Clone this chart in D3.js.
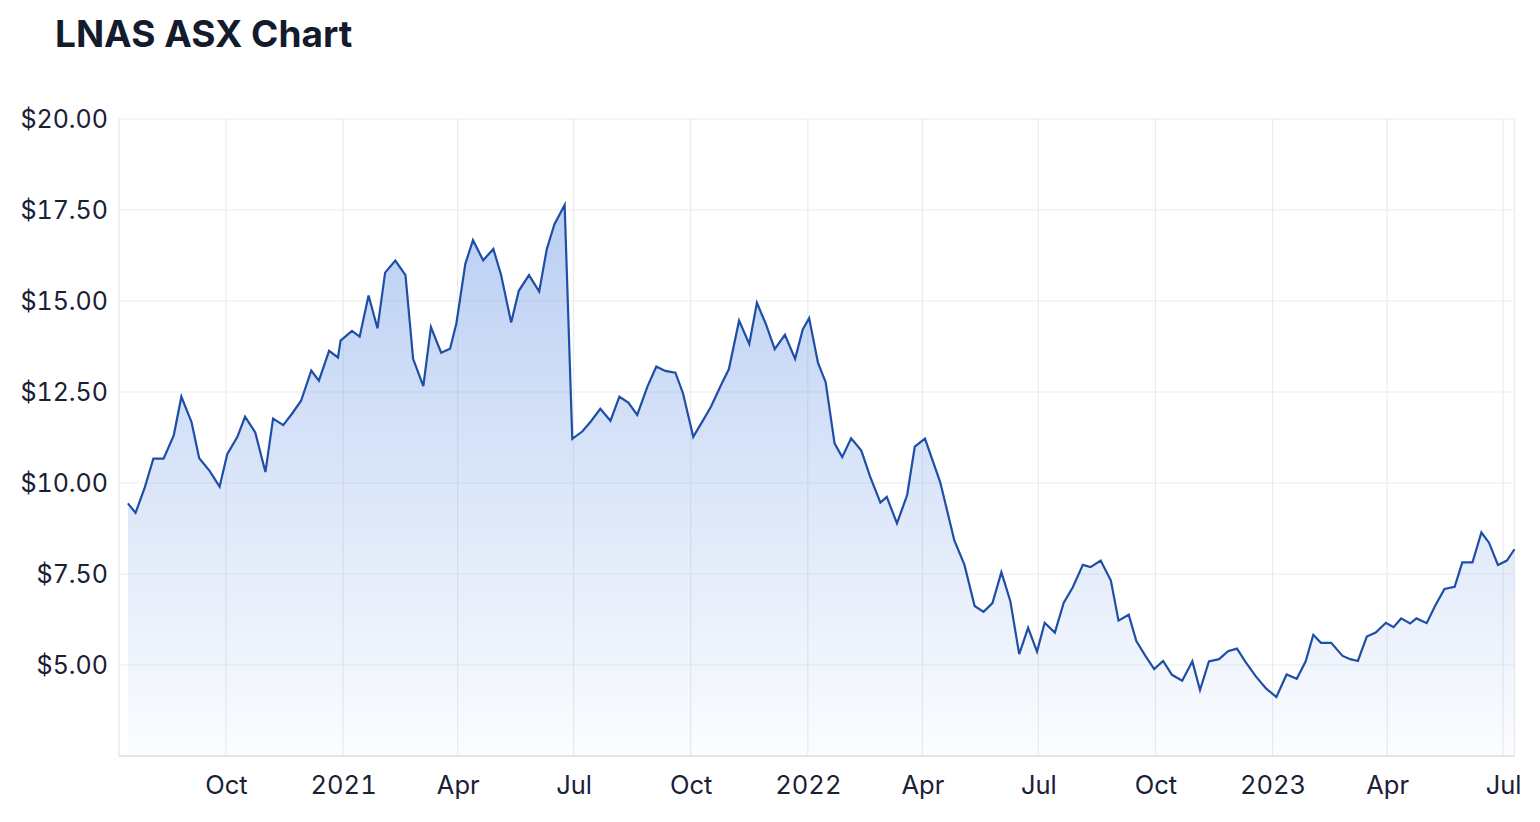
<!DOCTYPE html>
<html>
<head>
<meta charset="utf-8">
<script src="https://cdn.jsdelivr.net/npm/d3@7"></script>
<style>
  html, body { margin: 0; padding: 0; background: #fff; }
  svg { display: block; font-family: Inter, "Liberation Sans", sans-serif; }
  .tick text { font-variant-numeric: tabular-nums; font-feature-settings: "tnum" 1; }
</style>
</head>
<body>
<svg id="chart" width="1540" height="822"></svg>
<script>
const title = "LNAS ASX Chart";

const dates = [
  "2020-07-16","2020-07-22","2020-07-29","2020-08-05","2020-08-13","2020-08-21","2020-08-27","2020-09-04","2020-09-10","2020-09-18",
  "2020-09-26","2020-10-02","2020-10-10","2020-10-16","2020-10-24","2020-11-01","2020-11-07","2020-11-15","2020-11-22","2020-11-29",
  "2020-12-07","2020-12-13","2020-12-21","2020-12-28","2020-12-30","2021-01-08","2021-01-14","2021-01-21","2021-01-28","2021-02-03",
  "2021-02-11","2021-02-19","2021-02-25","2021-03-05","2021-03-11","2021-03-19","2021-03-26","2021-03-31","2021-04-07","2021-04-13",
  "2021-04-21","2021-04-29","2021-05-05","2021-05-13","2021-05-19","2021-05-27","2021-06-04","2021-06-10","2021-06-16","2021-06-24",
  "2021-06-30","2021-07-08","2021-07-15","2021-07-22","2021-07-30","2021-08-06","2021-08-13","2021-08-20","2021-08-28","2021-09-04",
  "2021-09-11","2021-09-19","2021-09-25","2021-10-03","2021-10-10","2021-10-17","2021-10-24","2021-10-31","2021-11-08","2021-11-16",
  "2021-11-22","2021-11-29","2021-12-06","2021-12-14","2021-12-22","2021-12-28","2022-01-02","2022-01-09","2022-01-15","2022-01-22",
  "2022-01-28","2022-02-04","2022-02-12","2022-02-19","2022-02-27","2022-03-04","2022-03-12","2022-03-20","2022-03-26","2022-04-03",
  "2022-04-15","2022-04-26","2022-05-04","2022-05-12","2022-05-19","2022-05-26","2022-06-02","2022-06-09","2022-06-16","2022-06-23",
  "2022-06-30","2022-07-06","2022-07-14","2022-07-21","2022-07-28","2022-08-05","2022-08-11","2022-08-19","2022-08-27","2022-09-02",
  "2022-09-10","2022-09-16","2022-09-23","2022-09-30","2022-10-07","2022-10-14","2022-10-22","2022-10-30","2022-11-05","2022-11-12",
  "2022-11-20","2022-11-27","2022-12-04","2022-12-11","2022-12-19","2022-12-27","2023-01-04","2023-01-12","2023-01-20","2023-01-27",
  "2023-02-02","2023-02-08","2023-02-16","2023-02-25","2023-03-03","2023-03-09","2023-03-16","2023-03-23","2023-03-31","2023-04-06",
  "2023-04-12","2023-04-19","2023-04-24","2023-05-02","2023-05-09","2023-05-16","2023-05-24","2023-05-30","2023-06-07","2023-06-14",
  "2023-06-20","2023-06-27","2023-07-04","2023-07-10"
];

const prices = [
  9.44, 9.18, 9.85, 10.67, 10.67, 11.31, 12.37, 11.67, 10.68, 10.34,
  9.90, 10.79, 11.27, 11.82, 11.39, 10.30, 11.77, 11.59, 11.91, 12.26,
  13.09, 12.81, 13.63, 13.45, 13.91, 14.18, 14.02, 15.15, 14.25, 15.78,
  16.11, 15.71, 13.41, 12.66, 14.28, 13.58, 13.69, 14.39, 16.02, 16.67,
  16.12, 16.43, 15.73, 14.41, 15.28, 15.71, 15.26, 16.43, 17.11, 17.64,
  11.21, 11.42, 11.71, 12.04, 11.71, 12.37, 12.21, 11.87, 12.65, 13.20,
  13.08, 13.03, 12.46, 11.27, 11.68, 12.10, 12.63, 13.13, 14.46, 13.82,
  14.95, 14.37, 13.68, 14.07, 13.41, 14.22, 14.53, 13.30, 12.77, 11.09,
  10.71, 11.23, 10.89, 10.17, 9.46, 9.62, 8.89, 9.67, 11.00, 11.22,
  10.02, 8.43, 7.75, 6.62, 6.46, 6.70, 7.55, 6.76, 5.30, 6.02,
  5.37, 6.16, 5.89, 6.71, 7.13, 7.75, 7.69, 7.87, 7.32, 6.22,
  6.38, 5.66, 5.26, 4.89, 5.11, 4.73, 4.57, 5.10, 4.31, 5.10,
  5.16, 5.38, 5.45, 5.07, 4.68, 4.35, 4.12, 4.74, 4.62, 5.10,
  5.83, 5.61, 5.61, 5.25, 5.16, 5.11, 5.78, 5.89, 6.16, 6.04,
  6.28, 6.14, 6.28, 6.15, 6.65, 7.09, 7.15, 7.82, 7.82, 8.64,
  8.36, 7.75, 7.87, 8.18
];

const yTicks = [5, 7.5, 10, 12.5, 15, 17.5, 20];
const xTickDates = ["2020-10-01","2021-01-01","2021-04-01","2021-07-01","2021-10-01","2022-01-01",
                    "2022-04-01","2022-07-01","2022-10-01","2023-01-01","2023-04-01","2023-07-01"];
const xTickLabels = ["Oct","2021","Apr","Jul","Oct","2022","Apr","Jul","Oct","2023","Apr","Jul"];
const xDomain = ["2020-07-09","2023-07-10"];
const yDomain = [2.5, 20];

(function () {
const parse = d3.utcParse("%Y-%m-%d");
const data = dates.map((d, i) => ({ date: parse(d), value: prices[i] }));

const pl = 119, pr = 1514.5, pt = 119, pb = 756;
const svg = d3.select("#chart");

const x = d3.scaleUtc().domain(xDomain.map(parse)).range([pl, pr]);
const y = d3.scaleLinear().domain(yDomain).range([pb, pt]);

svg.append("text")
  .attr("x", 55).attr("y", 47)
  .attr("font-size", 37).attr("font-weight", 700)
  .attr("fill", "#141b2d")
  .text(title);

const defs = svg.append("defs");
const grad = defs.append("linearGradient")
  .attr("id", "fillGrad").attr("gradientUnits", "userSpaceOnUse")
  .attr("x1", 0).attr("x2", 0).attr("y1", pt).attr("y2", pb);
grad.append("stop").attr("offset", "0%").attr("stop-color", "#4a80e0").attr("stop-opacity", 0.44);
grad.append("stop").attr("offset", "100%").attr("stop-color", "#4a80e0").attr("stop-opacity", 0.02);

svg.append("g")
  .selectAll("line").data(yTicks).join("line")
  .attr("x1", pl).attr("x2", pr)
  .attr("y1", d => y(d)).attr("y2", d => y(d))
  .attr("stroke", "#ebebeb").attr("stroke-width", 1.2);

svg.append("g")
  .selectAll("line").data(xTickDates).join("line")
  .attr("x1", d => x(parse(d))).attr("x2", d => x(parse(d)))
  .attr("y1", pt).attr("y2", pb)
  .attr("stroke", "#ececec").attr("stroke-width", 1.2);

svg.append("line").attr("x1", pl).attr("x2", pl).attr("y1", pt).attr("y2", pb)
  .attr("stroke", "#e6e6e6").attr("stroke-width", 1.2);
svg.append("line").attr("x1", pr).attr("x2", pr).attr("y1", pt).attr("y2", pb)
  .attr("stroke", "#ececec").attr("stroke-width", 1.2);

const area = d3.area().x(d => x(d.date)).y0(pb).y1(d => y(d.value));
svg.append("path").datum(data).attr("d", area).attr("fill", "url(#fillGrad)");

const line = d3.line().x(d => x(d.date)).y(d => y(d.value));
svg.append("path").datum(data)
  .attr("d", line).attr("fill", "none")
  .attr("stroke", "#1f4ea6").attr("stroke-width", 2.2);

svg.append("line").attr("x1", pl).attr("x2", pr).attr("y1", pb).attr("y2", pb)
  .attr("stroke", "#dedede").attr("stroke-width", 1.6);

const yAxis = d3.axisLeft(y).tickValues(yTicks)
  .tickFormat(d => "$" + d3.format(".2f")(d)).tickSize(0).tickPadding(11);
const gy = svg.append("g").attr("transform", `translate(${pl},0)`).call(yAxis);
gy.select(".domain").remove();
gy.selectAll("text").attr("font-size", 25).attr("fill", "#1a2035")
  .attr("font-family", "Inter, 'Liberation Sans', sans-serif");

const xAxis = d3.axisBottom(x).tickValues(xTickDates.map(parse))
  .tickFormat((d, i) => xTickLabels[i]).tickSize(0).tickPadding(20);
const gx = svg.append("g").attr("transform", `translate(0,${pb})`).call(xAxis);
gx.select(".domain").remove();
gx.selectAll("text").attr("font-size", 25.5).attr("fill", "#1a2035")
  .attr("font-family", "Inter, 'Liberation Sans', sans-serif");
})();
</script>
</body>
</html>
